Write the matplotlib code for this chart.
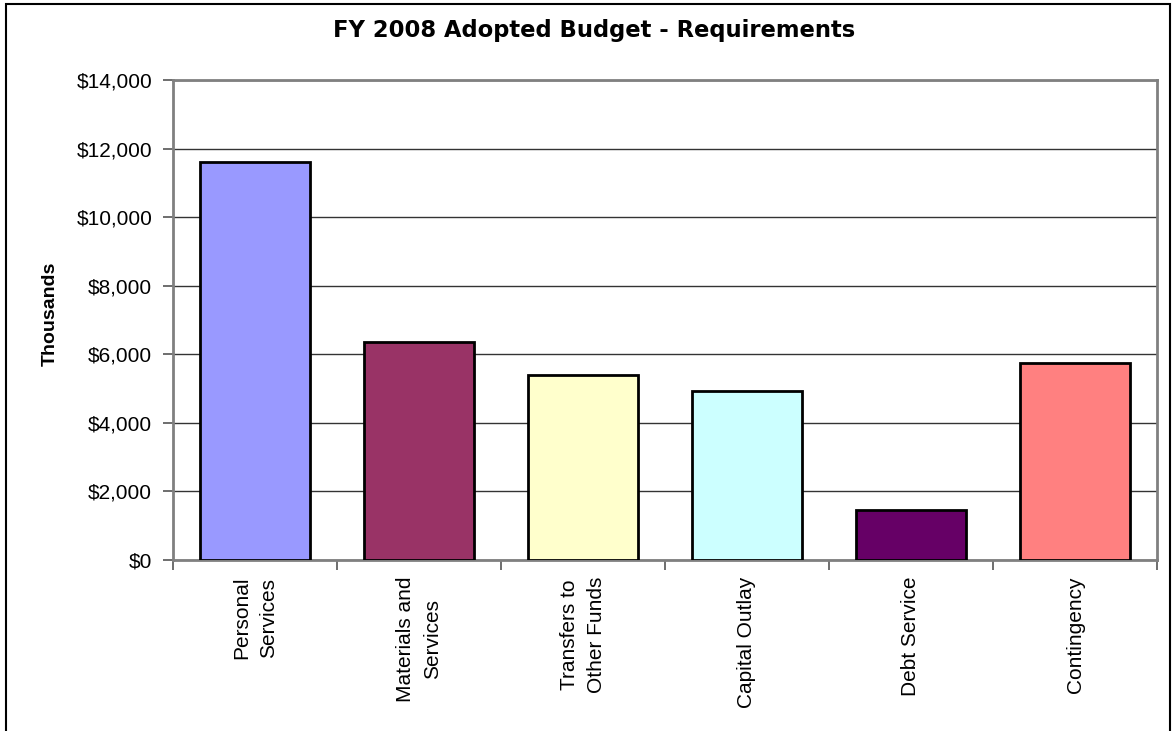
import matplotlib.pyplot as plt
from matplotlib.patches import Rectangle
from matplotlib.ticker import FuncFormatter, MultipleLocator

# FY 2008 adopted budget, requirements by category (thousands of dollars)
categories = ["Personal\nServices", "Materials and\nServices", "Transfers to\nOther Funds",
              "Capital Outlay", "Debt Service", "Contingency"]
amounts = [11600, 6360, 5400, 4940, 1455, 5750]
bar_colors = ["#9999FF", "#993366", "#FFFFCC", "#CCFFFF", "#660066", "#FF8080"]

plt.rcParams['font.family'] = ['Liberation Sans', 'DejaVu Sans']

fig = plt.figure(figsize=(11.72, 7.31), dpi=100)
ax = fig.add_axes([173 / 1172, 1 - 560 / 731, (1157 - 173) / 1172, (560 - 80) / 731])

positions = range(len(categories))
ax.bar(positions, amounts, width=0.67, color=bar_colors, edgecolor="black", linewidth=2, zorder=3)

ax.set_xlim(-0.5, len(categories) - 0.5)
ax.set_ylim(0, 14000)
ax.yaxis.set_major_locator(MultipleLocator(2000))
ax.yaxis.set_major_formatter(FuncFormatter(lambda v, p: "${:,.0f}".format(v)))
ax.grid(axis="y", color="#333333", linewidth=1, zorder=0)

# category labels sit between the boundary ticks
ax.set_xticks([p + 0.5 for p in positions[:-1]] + [-0.5, len(categories) - 0.5])
ax.set_xticklabels([])
ax.set_xticks(list(positions), minor=True)
ax.set_xticklabels(categories, minor=True, rotation=90, ha="center", va="top",
                   multialignment="center", fontsize=15)
for lbl in ax.get_xticklabels(minor=True):
    lbl.set_linespacing(1.55)
ax.tick_params(axis="x", which="minor", length=0, pad=12)
ax.tick_params(axis="x", which="major", length=7, width=1.2, color="#555555", direction="out")
ax.tick_params(axis="y", length=7, width=1.2, color="#555555", labelsize=15, pad=8)

for side in ["left", "right", "top", "bottom"]:
    ax.spines[side].set_color("#808080")
    ax.spines[side].set_linewidth(2)

ax.set_ylabel("Thousands", fontsize=14, fontweight="bold")
ax.yaxis.set_label_coords(-0.116, 0.5125)
fig.text(594 / 1172, 1 - 30 / 731, "FY 2008 Adopted Budget - Requirements",
         ha="center", va="center", fontsize=16.3, fontweight="bold", family="DejaVu Sans")

# outer chart border
fig.patches.append(Rectangle((6 / 1172, -0.1), 1164 / 1172, 1.1 - 4 / 731,
                             transform=fig.transFigure, fill=False,
                             edgecolor="black", linewidth=1.5))

fig.savefig("out.png", dpi=100)
